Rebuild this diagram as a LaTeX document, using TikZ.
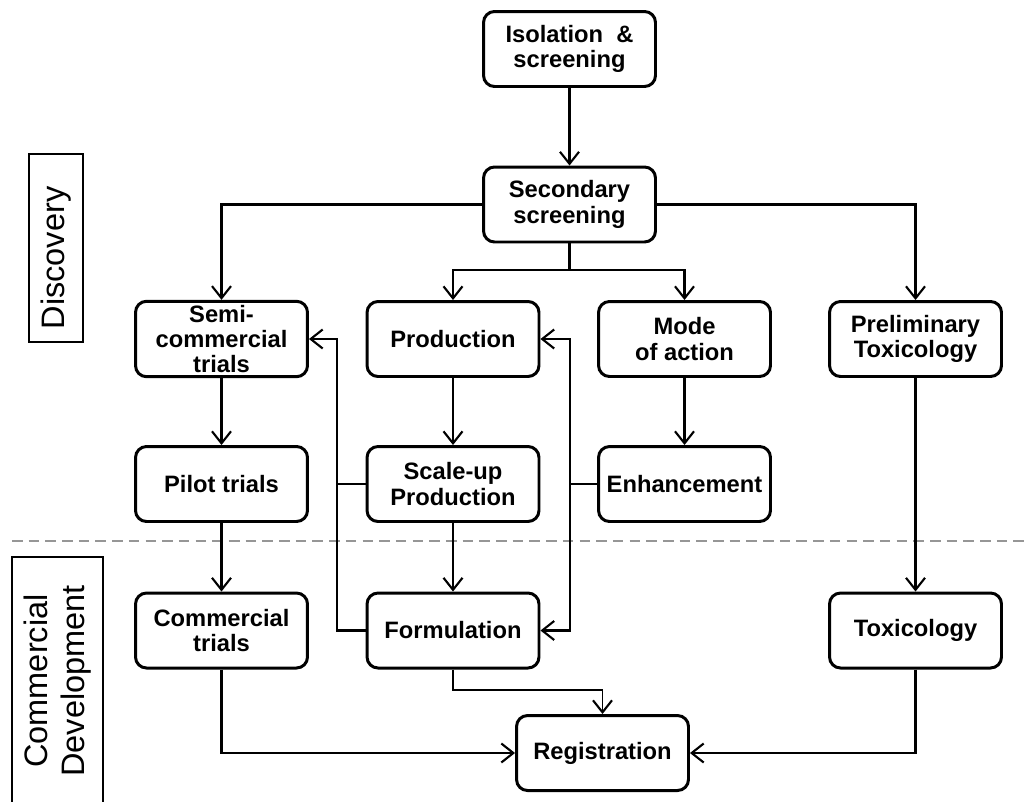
\documentclass[tikz,border=0pt]{standalone}
\usepackage{fontspec}
\setmainfont{Liberation Sans}
\usepackage{tikz}
\usetikzlibrary{positioning,arrows.meta,calc}
\definecolor{sepgray}{RGB}{150,150,150}

\begin{document}
\begin{tikzpicture}[x=0.02cm, y=-0.02cm,
    stage/.style={rectangle, draw, line width=1.7pt, rounded corners=0.22cm, minimum width=3.44cm, minimum height=1.5cm, align=center, font=\fontsize{13.5}{14.5}\selectfont\bfseries, inner sep=2pt},
    phase/.style={rectangle, draw, line width=1.3pt, rotate=90, align=center, font=\fontsize{18.5}{21}\selectfont},
    arrow/.style={-{Straight Barb[length=2.4mm, width=3.8mm, line width=1.2pt]}, line width=1.3pt},
    line/.style={line width=1.3pt}
]
\useasboundingbox (0,0) rectangle (1026,801);

% Phase labels
\node[phase, minimum width=3.76cm, minimum height=1.08cm] (disc) at (56, 248) {Discovery\hspace*{0.4cm}};
\node[phase, minimum width=4.96cm, minimum height=1.82cm] (cdev) at (57.5, 681) {Commercial\\Development};

% Separator
\draw[sepgray, line width=1pt, dash pattern=on 6pt off 3.5pt] (12, 541) -- (1026, 541);

% Screening
\node[stage] (iso) at (569.5, 49) {Isolation \ \&\\screening};
\node[stage] (sec) at (569.5, 204.5) {Secondary\\screening};
\draw[arrow] (iso) -- (sec);

% Second row
\node[stage] (semi) at (221.5, 339) {Semi-\\commercial\\trials};
\node[stage] (prod) at (453, 339) {Production};
\node[stage] (mode) at (684.5, 339) {Mode\\of action};
\node[stage] (pretox) at (915.5, 339) {Preliminary\\Toxicology};

\coordinate (split) at (569.5, 270);
\draw[arrow] (sec.west) -| (semi.north);
\draw[arrow] (sec.east) -| (pretox.north);
\draw[line] (sec.south) -- (split);
\draw[arrow] (split) -| (prod.north);
\draw[arrow] (split) -| (mode.north);

% Third row
\node[stage] (pilot) at (221.5, 484) {Pilot trials};
\node[stage] (scale) at (453, 484) {Scale-up\\Production};
\node[stage] (enh) at (684.5, 484) {Enhancement};
\draw[arrow] (semi) -- (pilot);
\draw[arrow] (prod) -- (scale);
\draw[arrow] (mode) -- (enh);

% Fourth row
\node[stage] (comm) at (221.5, 630.5) {Commercial\\trials};
\node[stage] (form) at (453, 630.5) {Formulation};
\node[stage] (tox) at (915.5, 630.5) {Toxicology};
\draw[arrow] (pilot) -- (comm);
\draw[arrow] (scale) -- (form);
\draw[arrow, line width=1.7pt] (pretox) -- (tox);

% Feedback loops
\coordinate (lbus) at (337, 484);
\coordinate (rbus) at (570, 484);
\draw[line] (scale.west) -- (lbus);
\draw[arrow] (form.west) -| (lbus) |- (semi.east);
\draw[line] (enh.west) -- (rbus);
\draw[arrow] (rbus) |- (prod.east);
\draw[arrow] (rbus) |- (form.east);

% Registration
\node[stage] (reg) at (602.5, 753) {Registration};
\coordinate (fbend) at (453, 690);
\draw[arrow, line width=1pt] (form.south) -- (fbend) -| (reg.north);
\draw[arrow] (comm.south) |- (reg.west);
\draw[arrow] (tox.south) |- (reg.east);

\end{tikzpicture}
\end{document}
